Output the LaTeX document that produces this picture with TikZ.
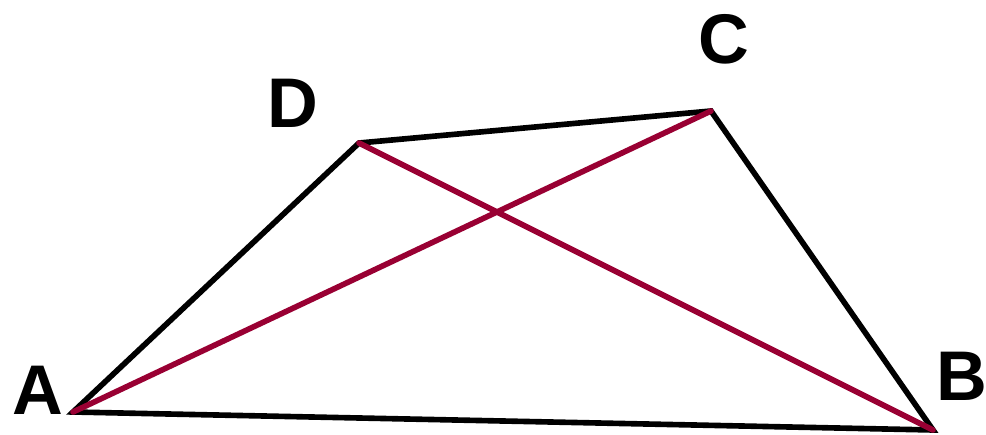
\documentclass[tikz,border=0pt]{standalone}
\usepackage{fontspec}
\setmainfont{Liberation Sans}
\definecolor{diagred}{HTML}{990033}
\tikzset{
  side/.style={line width=3.2pt, black, line cap=round},
  diag/.style={line width=3.2pt, diagred, line cap=round},
  vlabel/.style={font=\fontsize{40}{44}\selectfont\bfseries, inner sep=0pt}
}
\begin{document}
\begin{tikzpicture}[scale=1.0]
\useasboundingbox (0,0) rectangle (19.72,8.68);
\coordinate (A) at (1.46,0.44);
\coordinate (B) at (18.66,0.08);
\coordinate (C) at (14.22,6.46);
\coordinate (D) at (7.18,5.82);
\draw[side] (A) -- (B) -- (C) -- (D) -- cycle;
\draw[diag] (A) -- (C);
\draw[diag] (D) -- (B);
\node[vlabel] (labA) at (0.76,0.88) {A};
\node[vlabel] (labB) at (19.24,1.16) {B};
\node[vlabel] (labC) at (14.48,7.9) {C};
\node[vlabel] (labD) at (5.86,6.62) {D};
\end{tikzpicture}
\end{document}
